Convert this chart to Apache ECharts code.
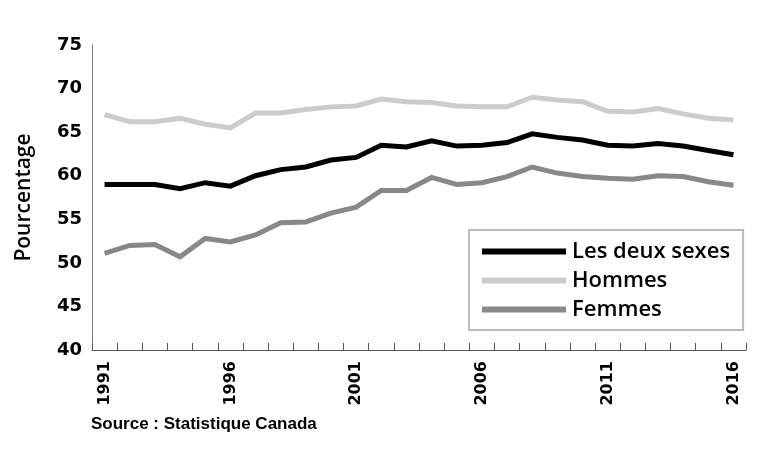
<!DOCTYPE html>
<html>
<head>
<meta charset="utf-8">
<script src="https://cdn.jsdelivr.net/npm/echarts@6/dist/echarts.min.js"></script>
<style>
html,body{margin:0;padding:0;background:#fff;}
#chart{width:769px;height:451px;}
</style>
</head>
<body>
<div id="chart"></div>
<script>
var years = ['1991','1992','1993','1994','1995','1996','1997','1998','1999','2000','2001','2002','2003','2004','2005','2006','2007','2008','2009','2010','2011','2012','2013','2014','2015','2016'];
var lesDeuxSexes = [59.0,59.0,59.0,58.5,59.2,58.8,60.0,60.7,61.0,61.8,62.1,63.5,63.3,64.0,63.4,63.5,63.8,64.8,64.4,64.1,63.5,63.4,63.7,63.4,62.9,62.4];
var hommes = [67.0,66.2,66.2,66.6,65.9,65.5,67.2,67.2,67.6,67.9,68.0,68.8,68.5,68.4,68.0,67.9,67.9,69.0,68.7,68.5,67.4,67.3,67.7,67.1,66.6,66.4];
var femmes = [51.1,52.0,52.1,50.7,52.8,52.4,53.2,54.6,54.7,55.7,56.4,58.3,58.3,59.8,59.0,59.2,59.9,61.0,60.3,59.9,59.7,59.6,60.0,59.9,59.3,58.9];
var seriesNames = ['Les deux sexes','Hommes','Femmes'];
var yTitle = 'Pourcentage';
var sourceText = 'Source : Statistique Canada';

var chart = echarts.init(document.getElementById('chart'), null, {renderer:'canvas'});
function mk(name, data, color){
  return {name:name, type:'line', data:data, symbol:'none', smooth:false,
    lineStyle:{color:color, width:5, join:'miter'}, itemStyle:{color:color}};
}
chart.setOption({
  animation:false,
  backgroundColor:'#fff',
  title:{text:sourceText, left:86, top:411,
    textStyle:{fontFamily:'"Liberation Sans",Arial,sans-serif', fontWeight:'bold', fontSize:17, color:'#000'}},
  grid:{left:92, right:23, top:45, bottom:101, containLabel:false},
  legend:{
    orient:'vertical', left:469, top:230,
    padding:[7,13,6,13],
    borderColor:'#bbbbbb', borderWidth:2, backgroundColor:'#fff',
    itemWidth:84, itemHeight:6, itemGap:0, icon:'rect',
    textStyle:{fontFamily:'"Open Sans",sans-serif', fontWeight:600, fontSize:22, color:'#000', lineHeight:29, padding:[0,0,0,1]},
    data:seriesNames
  },
  xAxis:{
    type:'category', data:years, boundaryGap:true,
    axisLine:{lineStyle:{color:'#555', width:1}},
    axisTick:{show:true, inside:true, length:7, interval:0, lineStyle:{color:'#555'}},
    axisLabel:{interval:4, rotate:90, margin:11, fontFamily:'"DejaVu Sans",sans-serif', fontWeight:'bold', fontSize:16, color:'#000'},
    splitLine:{show:false}
  },
  yAxis:{
    type:'value', min:40, max:75, interval:5,
    name:yTitle, nameLocation:'middle', nameGap:57, nameRotate:90,
    nameTextStyle:{fontFamily:'"Open Sans",sans-serif', fontWeight:600, fontSize:21, color:'#000'},
    axisLine:{show:true, lineStyle:{color:'#777', width:1}},
    axisTick:{show:false},
    axisLabel:{margin:10, fontFamily:'"DejaVu Sans",sans-serif', fontWeight:'bold', fontSize:18, color:'#000'},
    splitLine:{show:false}
  },
  series:[
    mk(seriesNames[1], hommes, '#cccccc'),
    mk(seriesNames[2], femmes, '#888888'),
    mk(seriesNames[0], lesDeuxSexes, '#000000')
  ]
});
</script>
</body>
</html>
